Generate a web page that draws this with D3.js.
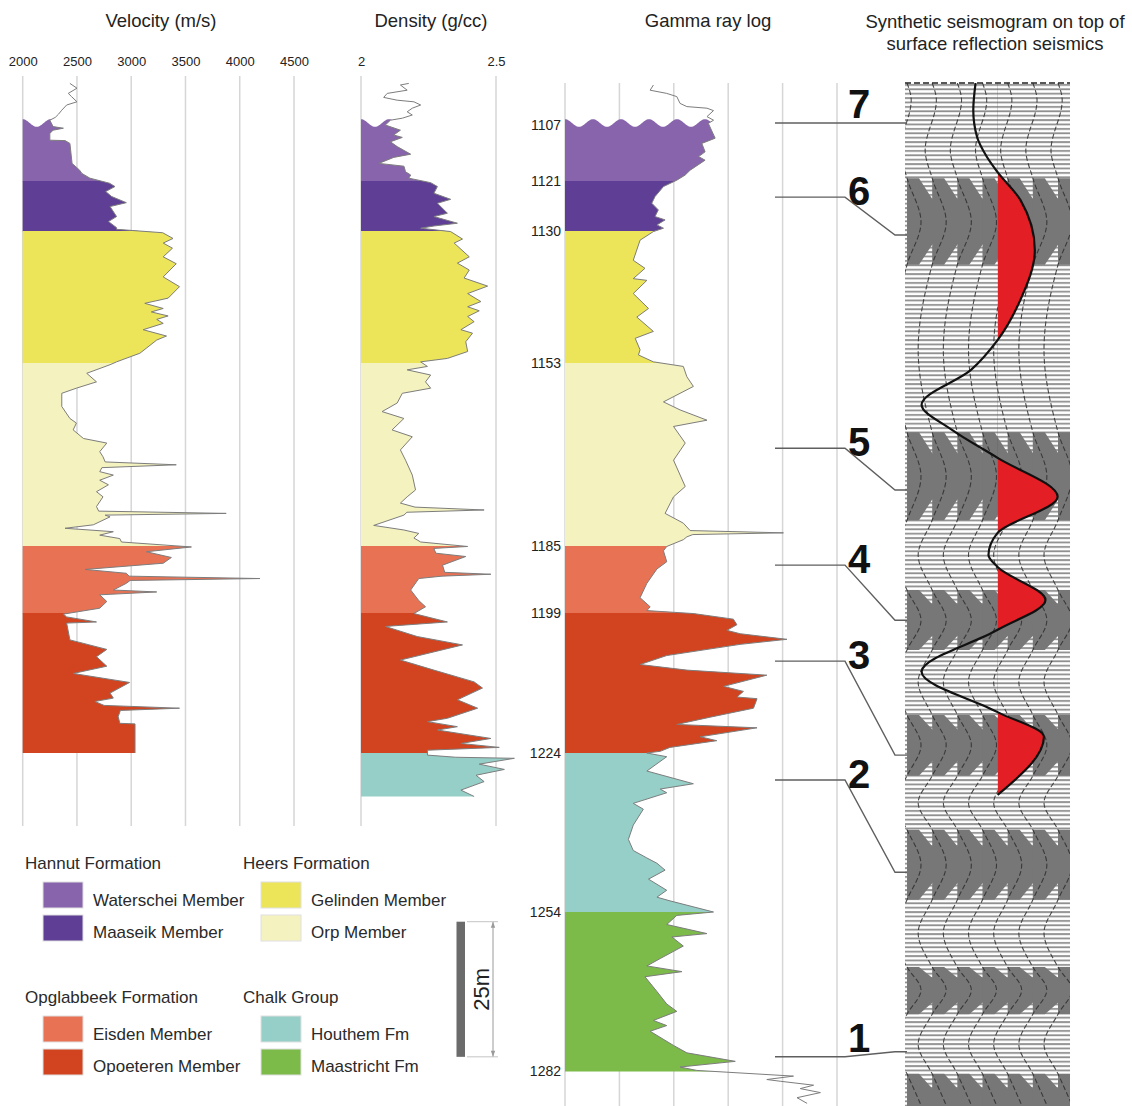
<!DOCTYPE html>
<html lang="en">
<head>
<meta charset="utf-8">
<title>Well logs and synthetic seismogram</title>
<script src="https://cdn.jsdelivr.net/npm/d3@7"></script>
<style>
  body { margin: 0; background: #fff; }
  svg { display: block; font-family: "Liberation Sans", Arial, Helvetica, sans-serif; }
  .grid { stroke: #d6d6d6; stroke-width: 1.5; }
  .title { font-size: 18.5px; fill: #222; text-anchor: middle; }
  .log-line { fill: none; stroke: #7d7d7d; stroke-width: 1; }
  .depth-label { font-size: 14px; fill: #222; text-anchor: end; }
  .legend-text { font-size: 17px; fill: #2a2a2a; }
  .leader { fill: none; stroke: #5f5f5f; stroke-width: 1.4; }
  .horizon-id { font-size: 40px; font-weight: bold; fill: #111; text-anchor: middle; }
  .wiggle { fill: none; stroke: #2e2e2e; stroke-width: 1.1; stroke-dasharray: 5 2.5; opacity: 0.85; }
</style>
</head>
<body>
<div id="chart"></div>
<script>
// ---- stratigraphic units (tops in m, last value = base of Maastricht Fm) ----
const unitNames = ["Waterschei Member", "Maaseik Member", "Gelinden Member", "Orp Member",
                   "Eisden Member", "Opoeteren Member", "Houthem Fm", "Maastricht Fm"];
const unitTops = [1107, 1121, 1130, 1153, 1185, 1199, 1224, 1254, 1282];
const unitColors = ["#8764ab", "#5e3f95", "#ece55a", "#f4f2bf",
                    "#e77254", "#d2441f", "#95cfc7", "#7cba4a"];
const groupNames = ["Hannut Formation", "Heers Formation", "Opglabbeek Formation", "Chalk Group"];
const groupMembers = [[0, 1], [2, 3], [4, 5], [6, 7]];

// ---- axis ticks ----
const velocityTicks = [2000, 2500, 3000, 3500, 4000, 4500];
const densityTicks = [2, 2.5];
const gammaGrid = [0, 20, 40, 60, 80, 100];

// ---- logs: [depth (m), value] ----
const velocity = [
  [1096.6,2435],[1097.8,2500],[1099.1,2420],[1099.9,2450],[1101.2,2500],[1102.0,2405],[1103.3,2360],[1104.3,2330],[1105.1,2300],[1105.8,2250],
  [1107.4,2280],[1107.8,2375],[1108.3,2280],[1109.1,2250],[1110.8,2250],[1110.9,2390],[1111.6,2435],[1116.6,2455],[1118.3,2525],[1119.1,2545],[1120.3,2620],
  [1121.4,2800],[1122.0,2850],[1122.9,2765],[1123.8,2820],[1124.9,2955],[1125.6,2805],[1127.4,2865],[1128.3,2790],[1129.4,2865],[1129.7,2865],
  [1130.3,3290],[1131.3,3385],[1132.1,3295],[1133.0,3380],[1134.5,3295],[1135.7,3415],[1138.0,3295],[1139.7,3445],[1141.7,3340],[1142.6,3125],
  [1143.5,3295],[1144.1,3185],[1144.8,3340],[1145.4,3235],[1146.1,3295],[1147.2,3110],[1148.3,3325],[1149.0,3235],[1151.3,3080],[1152.8,2865],
  [1153.3,2805],[1154.8,2590],[1156.3,2680],[1157.4,2495],[1158.3,2360],[1160.6,2360],[1162.7,2435],[1163.5,2495],[1164.7,2465],[1166.2,2560],
  [1167.0,2775],[1168.5,2710],[1169.4,2740],[1170.3,2760],[1170.8,3415],[1171.3,2730],[1172.0,2710],[1172.6,2835],[1173.5,2710],[1174.3,2790],
  [1175.5,2680],[1176.4,2740],[1178.1,2680],[1178.9,2700],[1179.3,3875],[1179.6,2760],[1179.9,2805],[1181.3,2650],[1181.9,2390],[1182.5,2835],
  [1183.1,2710],[1183.7,2895],[1184.3,2910],
  [1185.2,3555],[1186.2,3140],[1187.4,3370],[1188.6,3295],[1189.9,2575],[1190.7,2955],[1191.3,2980],[1191.8,4185],[1192.2,2990],[1192.8,2955],
  [1194.2,2835],[1194.6,3235],[1195.2,2710],[1196.6,2775],[1198.0,2710],
  [1199.2,2375],[1199.7,2405],[1200.6,2680],[1200.8,2405],[1203.8,2435],[1205.5,2775],[1206.8,2680],[1208.5,2775],[1209.8,2465],[1211.4,2985],
  [1213.3,2805],[1214.2,2835],[1214.8,2665],[1215.5,2750],[1216.0,3445],[1216.4,2900],[1217.5,2880],[1218.7,2895],[1218.8,3035],[1224.0,3035]
];
const density = [
  [1096.6,2.177],[1097.0,2.146],[1098.3,2.171],[1099.1,2.097],[1100.1,2.084],[1100.8,2.134],[1101.2,2.196],[1102.0,2.221],[1102.8,2.190],
  [1103.7,2.171],[1104.5,2.190],[1105.3,2.153],[1105.8,2.109],
  [1107.0,2.090],[1108.3,2.146],[1109.5,2.121],[1110.1,2.153],[1111.2,2.109],[1112.4,2.134],[1114.3,2.184],[1115.1,2.121],[1116.6,2.066],
  [1117.3,2.159],[1118.7,2.165],[1119.5,2.184],[1120.3,2.177],
  [1121.3,2.258],[1122.0,2.283],[1123.2,2.270],[1124.3,2.332],[1125.0,2.283],[1126.8,2.320],[1127.4,2.270],[1128.6,2.357],[1129.1,2.270],[1129.5,2.221],
  [1130.1,2.332],[1131.4,2.376],[1132.1,2.345],[1134.5,2.401],[1135.6,2.357],[1136.8,2.401],[1138.2,2.382],[1139.6,2.469],[1140.9,2.395],
  [1142.3,2.444],[1143.2,2.395],[1143.9,2.438],[1144.9,2.395],[1145.8,2.419],[1147.2,2.370],[1147.8,2.413],[1149.3,2.388],[1151.0,2.395],
  [1152.2,2.320],[1152.8,2.221],
  [1153.6,2.246],[1154.2,2.171],[1155.1,2.258],[1156.3,2.239],[1157.4,2.258],[1158.3,2.153],[1160.0,2.134],[1161.5,2.078],[1162.7,2.159],
  [1164.7,2.115],[1165.9,2.190],[1168.2,2.146],[1170.0,2.165],[1172.6,2.190],[1175.2,2.202],[1176.4,2.171],[1177.5,2.146],[1178.2,2.200],
  [1178.7,2.456],[1179.1,2.170],[1179.6,2.159],[1181.4,2.047],[1182.2,2.159],[1182.8,2.214],[1183.6,2.196],[1184.3,2.221],
  [1185.1,2.395],[1185.5,2.270],[1186.5,2.277],[1187.2,2.388],[1189.0,2.302],[1190.5,2.310],[1190.9,2.481],[1191.3,2.300],[1191.8,2.214],
  [1194.2,2.184],[1196.4,2.214],[1197.7,2.239],
  [1199.1,2.196],[1200.6,2.320],[1201.4,2.090],[1203.2,2.208],[1204.7,2.376],[1207.4,2.146],[1209.2,2.270],[1211.3,2.419],[1212.4,2.450],
  [1214.5,2.357],[1216.0,2.432],[1217.8,2.320],[1218.4,2.246],[1219.3,2.357],[1219.9,2.283],[1221.4,2.481],[1222.3,2.370],[1223.0,2.512],[1223.5,2.246],
  [1224.4,2.246],[1224.8,2.351],[1225.0,2.568],[1226.1,2.438],[1227.1,2.531],[1228.2,2.426],[1229.4,2.456],[1231.0,2.370],[1232.2,2.419]
];
const gammaRay = [
  [1097.0,32.5],[1098.3,31.3],[1099.1,37.4],[1099.9,41.1],[1101.6,42.3],[1102.4,44.8],[1102.8,52.2],[1103.4,54.6],[1104.9,52.2],[1105.8,54.6],
  [1106.6,52.7],[1110.3,55.2],[1111.6,50.3],[1113.7,51.5],[1114.9,49.1],[1115.8,51.5],[1118.3,46.0],[1119.5,44.2],[1120.8,41.1],
  [1122.0,36.2],[1123.8,33.1],[1125.0,31.9],[1126.2,34.3],[1127.4,33.1],[1128.0,36.8],[1128.9,33.8],[1129.5,36.2],
  [1130.1,32.5],[1131.6,27.6],[1135.1,25.1],[1136.5,29.4],[1138.3,25.1],[1138.6,30.1],[1140.9,25.1],[1143.5,30.7],[1145.0,26.4],[1147.5,32.5],
  [1148.7,25.8],[1150.7,27.6],[1151.6,27.0],[1152.8,32.5],
  [1153.6,43.5],[1155.4,44.8],[1157.1,47.2],[1159.8,36.2],[1161.2,42.3],[1163.0,52.2],[1164.1,39.9],[1167.0,44.2],[1170.0,39.9],[1174.6,44.2],
  [1176.4,39.9],[1179.3,36.8],[1181.0,43.5],[1182.3,46.0],[1182.7,80.3],[1183.0,47.0],[1183.4,44.8],[1183.9,43.5],
  [1185.1,37.4],[1186.0,36.2],[1188.3,37.4],[1189.8,33.8],[1192.8,30.1],[1195.8,27.6],[1197.7,31.3],[1198.5,30.1],
  [1199.1,47.2],[1200.1,61.9],[1201.1,63.2],[1202.1,59.5],[1202.7,64.4],[1203.7,81.6],[1204.6,64.4],[1206.6,37.4],[1208.2,27.6],[1209.2,44.8],
  [1210.1,74.2],[1212.1,58.3],[1213.0,65.6],[1214.0,63.2],[1214.3,70.6],[1216.0,69.3],[1217.6,53.4],[1218.9,41.1],[1219.5,70.6],[1221.1,49.7],
  [1221.8,55.8],[1223.0,38.6],[1223.7,35.0],
  [1224.0,30.1],[1224.7,37.4],[1227.4,30.1],[1229.8,47.2],[1230.8,35.0],[1231.5,37.4],[1233.5,25.1],[1234.6,28.8],[1237.6,25.1],[1240.3,23.3],
  [1242.4,25.1],[1243.8,30.1],[1244.8,33.8],[1246.1,36.8],[1247.8,30.7],[1249.9,37.4],[1251.2,33.8],[1251.9,38.6],[1254.0,54.6],
  [1254.6,41.1],[1256.2,37.4],[1257.8,52.2],[1258.4,39.3],[1260.0,43.5],[1262.2,35.0],[1263.5,30.1],[1264.5,43.0],[1265.4,29.4],[1268.0,33.8],
  [1270.2,37.4],[1271.5,41.1],[1273.1,32.5],[1274.0,37.4],[1275.0,31.3],[1277.5,39.9],[1278.8,44.8],[1280.3,62.6],[1281.3,42.3],[1281.9,48.5],
  [1282.9,84.0],[1283.5,74.2],[1283.8,79.1],[1284.5,91.4],[1285.1,86.5],[1285.8,93.9],[1286.7,85.3],[1287.7,89.0]
];

// ---- seismic: reflection trace [depth, relative amplitude] and its variable-area lobes [top, peak, base] ----
const seisWiggle = [
  [1096.5,0],[1100.8,0.15],[1113.3,-0.25],[1120.3,0],[1128.4,0.5],[1135.9,0],[1150.7,-0.5],[1165.1,0],[1172.8,0.5],[1180.5,0],
  [1186.9,-0.5],[1194.2,0],[1200.3,0.5],[1205.6,0],[1211.3,-0.5],[1217.2,0],[1222.6,0.5],[1228.3,0],[1233.4,-0.5],[1238.5,0],
  [1245.1,0.5],[1251.7,0],[1257.7,-0.5],[1263.7,0],[1267.7,0.5],[1272.0,0],[1277.3,-0.5],[1282.5,0],[1288.0,0.5]
];
const seisLobes = [
  [1120.3,1128.4,1135.9],[1165.1,1172.8,1180.5],[1194.2,1200.3,1205.6],[1217.2,1222.6,1228.3],
  [1238.5,1245.1,1251.7],[1263.7,1267.7,1272.0],[1282.5,1288.0,1293.3]
];
const traceCount = 7;
// synthetic seismogram [depth, relative amplitude]
const synthetic = [
  [1096.5,-0.29],[1103.3,-0.32],[1110.0,-0.27],[1115.0,-0.14],[1118.8,0],[1124.4,0.30],[1133.3,0.49],[1142.0,0.30],[1149.0,0],
  [1154.2,-0.35],[1160.3,-1.0],[1164.7,-0.6],[1169.6,0],[1176.4,0.79],[1182.7,0],[1186.9,-0.12],[1189.4,0],[1196.3,0.63],
  [1202.0,0],[1209.5,-1.0],[1216.7,0],[1221.1,0.61],[1231.9,0]
];

// ---- interpreted horizons: label, depth at the well, depth on the seismic ----
const horizonIds = ["7", "6", "5", "4", "3", "2", "1"];
const horizonWellDepth = [1106.5, 1123.9, 1167.9, 1189.0, 1207.6, 1229.1, 1279.5];
const horizonSeisDepth = [1106.5, 1130.7, 1175.2, 1200.3, 1224.4, 1246.5, 1278.6];

// ================= layout =================
const W = 1132, H = 1106;
const svg = d3.select("#chart").append("svg").attr("width", W).attr("height", H);
const defs = svg.append("defs");

// depth axis is tied at the formation tops (display is not linear in depth)
const depthAnchorsPx = [125, 181, 231, 363, 546, 613, 753, 912, 1071];
const y = d3.scaleLinear().domain(unitTops).range(depthAnchorsPx);

// unit clip bands, shared by the three log panels
unitNames.forEach((n, i) => {
  const t = y(unitTops[i]) - (i === 0 ? 10 : 0);
  defs.append("clipPath").attr("id", "unit-" + i)
    .append("rect").attr("x", 0).attr("width", W)
    .attr("y", t).attr("height", y(unitTops[i + 1]) - t + 0.6);
});

const panels = [
  { id: "vel", data: velocity, x: d3.scaleLinear().domain([2000, 4500]).range([22.7, 294]),
    grid: velocityTicks, labels: velocityTicks, fmt: d3.format("d"),
    title: "Velocity (m/s)", titleX: 161, gridY: [76, 826] },
  { id: "den", data: density, x: d3.scaleLinear().domain([2, 2.5]).range([361, 496]),
    grid: densityTicks, labels: densityTicks, fmt: d => String(d),
    title: "Density (g/cc)", titleX: 431, gridY: [76, 826] },
  { id: "gr", data: gammaRay, x: d3.scaleLinear().domain([0, 100]).range([565, 837]),
    grid: gammaGrid, labels: [], fmt: null,
    title: "Gamma ray log", titleX: 708, gridY: [83, H] }
];

panels.forEach(p => {
  const g = svg.append("g");
  g.selectAll("line").data(p.grid).join("line").attr("class", "grid")
    .attr("x1", p.x).attr("x2", p.x).attr("y1", p.gridY[0]).attr("y2", p.gridY[1]);

  if (p.labels.length) {
    g.append("g").attr("transform", "translate(0,66)")
      .call(d3.axisTop(p.x).tickValues(p.labels).tickFormat(p.fmt).tickSize(0).tickPadding(0))
      .attr("font-size", 13).attr("font-family", null)
      .call(s => s.select(".domain").remove())
      .selectAll("text").attr("fill", "#222");
  }

  g.append("text").attr("class", "title").attr("x", p.titleX).attr("y", 27).text(p.title);

  // wavy (unconformable) top of the logged section
  const x0 = p.x.range()[0], x1 = p.x.range()[1] + 60;
  const yc = y(unitTops[0]) - 2;
  const wave = d3.range(x0 - 1, x1, 1).map(x => [x, yc - 3.8 * Math.cos(2 * Math.PI * (x - x0) / 28)]);
  defs.append("clipPath").attr("id", "wave-" + p.id).append("path")
    .attr("d", d3.line()(wave) + `L${x1},${H}L${x0 - 1},${H}Z`);

  const area = d3.area().x0(x0).x1(d => p.x(d[1])).y(d => y(d[0]));
  const fills = g.append("g").attr("clip-path", `url(#wave-${p.id})`);
  unitColors.forEach((c, i) => {
    fills.append("path").attr("d", area(p.data)).attr("fill", c)
      .attr("clip-path", `url(#unit-${i})`);
  });
  g.append("path").attr("class", "log-line")
    .attr("d", d3.line().x(d => p.x(d[1])).y(d => y(d[0]))(p.data));
});

// depth labels at formation tops
svg.append("g").selectAll("text").data(unitTops).join("text")
  .attr("class", "depth-label").attr("x", 561).attr("y", d => y(d) + 5).text(d => d);

// ================= seismic panel =================
const seisBox = { left: 905, right: 1070, top: 83 };
const seisX = d3.scaleLinear().domain([0, traceCount - 1]).range([907, 1058]);
const wiggleAmp = d3.scaleLinear().domain([-1, 1]).range([-28, 28]);
const lobeAmp = d3.scaleLinear().domain([0, 1]).range([0, 40]);
const lobeOnset = 0.3;
const synBase = seisX(3.6);
const synAmp = d3.scaleLinear().domain([-1, 1]).range([-76, 76]);

svg.append("text").attr("class", "title").attr("x", 995).attr("y", 28).text("Synthetic seismogram on top of");
svg.append("text").attr("class", "title").attr("x", 995).attr("y", 50).text("surface reflection seismics");

defs.append("clipPath").attr("id", "seis-clip").append("rect")
  .attr("x", seisBox.left).attr("y", seisBox.top)
  .attr("width", seisBox.right - seisBox.left).attr("height", H - seisBox.top);
const pat = defs.append("pattern").attr("id", "hlines").attr("patternUnits", "userSpaceOnUse")
  .attr("x", 0).attr("y", seisBox.top).attr("width", 20).attr("height", 4.4);
pat.append("rect").attr("width", 20).attr("height", 4.4).attr("fill", "#fff");
pat.append("rect").attr("y", 1).attr("width", 20).attr("height", 1.8).attr("fill", "#8e8e8e");

const seis = svg.append("g").attr("clip-path", "url(#seis-clip)");
seis.append("rect").attr("x", seisBox.left).attr("y", seisBox.top)
  .attr("width", seisBox.right - seisBox.left).attr("height", H - seisBox.top)
  .attr("fill", "url(#hlines)");

// variable-area lobes, drawn left to right so each trace overlaps the previous one
d3.range(traceCount).forEach(i => {
  const bx = seisX(i);
  seis.append("g").selectAll("path").data(seisLobes).join("path")
    .attr("fill", "#777")
    .attr("d", l => d3.line()([
      [bx, y(l[0])], [bx + lobeAmp(lobeOnset), y(l[0])], [bx + lobeAmp(1), y(l[1])],
      [bx + lobeAmp(lobeOnset), y(l[2])], [bx, y(l[2])]
    ]) + "Z");
});

// wiggle traces
d3.range(traceCount).forEach(i => {
  const bx = seisX(i);
  seis.append("path").attr("class", "wiggle")
    .attr("d", d3.line().curve(d3.curveMonotoneY).x(d => bx + wiggleAmp(d[1])).y(d => y(d[0]))(seisWiggle));
});

// synthetic seismogram: red positive fill + black trace
defs.append("clipPath").attr("id", "syn-pos").append("rect")
  .attr("x", synBase).attr("y", 0).attr("width", W - synBase).attr("height", H);
seis.append("path")
  .attr("d", d3.area().curve(d3.curveMonotoneY).y(d => y(d[0])).x0(synBase).x1(d => synBase + synAmp(d[1]))(synthetic))
  .attr("fill", "#e31e24").attr("clip-path", "url(#syn-pos)");
seis.append("path")
  .attr("d", d3.line().curve(d3.curveMonotoneY).y(d => y(d[0])).x(d => synBase + synAmp(d[1]))(synthetic))
  .attr("fill", "none").attr("stroke", "#111").attr("stroke-width", 2.2);

svg.append("line").attr("x1", seisBox.left).attr("x2", seisBox.right)
  .attr("y1", seisBox.top).attr("y2", seisBox.top)
  .attr("stroke", "#222").attr("stroke-width", 1.6).attr("stroke-dasharray", "6 3");

// horizon leaders and numbers
const leaderX = [775, 845, 895, 907];
horizonIds.forEach((id, k) => {
  const yl = y(horizonWellDepth[k]), yr = y(horizonSeisDepth[k]);
  svg.append("path").attr("class", "leader")
    .attr("d", d3.line()([[leaderX[0], yl], [leaderX[1], yl], [leaderX[2], yr], [leaderX[3], yr]]));
  const straight = Math.abs(yr - yl) < 10;
  svg.append("text").attr("class", "horizon-id").attr("x", 859)
    .attr("y", straight ? yl - 5 : yl + 8).text(id);
});

// ================= legend =================
const legendCols = [25, 243], legendRows = [869, 1003];
groupNames.forEach((name, k) => {
  const gx = legendCols[k % 2], gy = legendRows[Math.floor(k / 2)];
  const lg = svg.append("g");
  lg.append("text").attr("class", "legend-text").attr("x", gx).attr("y", gy).text(name);
  groupMembers[k].forEach((ui, j) => {
    lg.append("rect").attr("x", gx + 18).attr("y", gy + 13 + j * 33)
      .attr("width", 40).attr("height", 26)
      .attr("fill", unitColors[ui]).attr("stroke", "#e0e0e0").attr("stroke-width", 1);
    lg.append("text").attr("class", "legend-text").attr("x", gx + 68).attr("y", gy + 37 + j * 32)
      .text(unitNames[ui]);
  });
});

// 25 m scale bar
const pxPerM = (y(unitTops[unitTops.length - 1]) - y(unitTops[0])) / (unitTops[unitTops.length - 1] - unitTops[0]);
const barTop = 921.7, barLen = 25 * pxPerM;
const sb = svg.append("g");
sb.append("rect").attr("x", 456.5).attr("y", barTop).attr("width", 8.5).attr("height", barLen).attr("fill", "#6b6b6b");
sb.append("line").attr("x1", 493).attr("x2", 493).attr("y1", barTop).attr("y2", barTop + barLen)
  .attr("stroke", "#9a9a9a").attr("stroke-width", 1);
[barTop, barTop + barLen].forEach((yy, k) => {
  sb.append("line").attr("x1", 467).attr("x2", 498).attr("y1", yy).attr("y2", yy)
    .attr("stroke", "#c4c4c4").attr("stroke-width", 1);
  const dir = k === 0 ? 1 : -1;
  sb.append("path").attr("d", `M493,${yy}L490.8,${yy + dir * 6}L495.2,${yy + dir * 6}Z`).attr("fill", "#9a9a9a");
});
sb.append("text").attr("transform", `translate(481,${barTop + barLen / 2}) rotate(-90)`)
  .attr("text-anchor", "middle").attr("dominant-baseline", "central")
  .attr("font-size", 22).attr("fill", "#222").text("25m");
</script>
</body>
</html>
